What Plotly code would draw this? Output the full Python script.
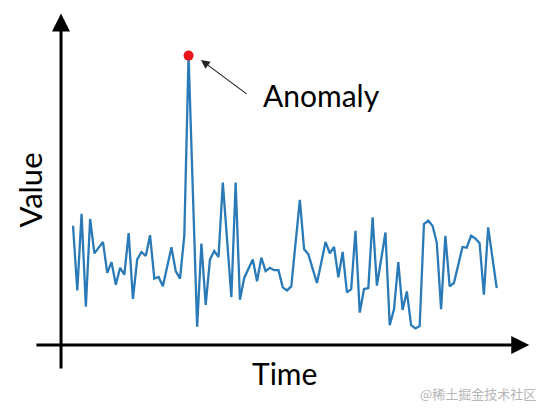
import plotly.graph_objects as go

# time series (arbitrary units)
time_idx = list(range(100))
values = [
    3.60, 1.68, 3.95, 1.20, 3.80, 2.78, 2.95, 3.12, 2.20, 2.52,
    1.85, 2.35, 2.15, 3.38, 1.43, 2.60, 2.82, 2.70, 3.32, 2.03,
    2.08, 1.80, 2.38, 2.96, 2.25, 2.03, 3.30, 8.65, 4.62, 0.60,
    3.07, 1.25, 2.60, 2.85, 2.67, 4.88, 3.18, 1.48, 4.88, 1.40,
    2.05, 2.32, 2.60, 1.95, 2.65, 2.25, 2.35, 2.28, 2.28, 1.77,
    1.68, 1.80, 3.10, 4.37, 2.90, 2.75, 2.32, 1.90, 2.50, 3.12,
    2.78, 2.97, 2.07, 2.82, 1.62, 1.72, 3.45, 1.02, 1.72, 1.75,
    3.85, 1.82, 2.60, 3.40, 0.65, 1.12, 2.52, 1.10, 1.65, 0.65,
    0.55, 0.62, 3.65, 3.75, 3.60, 3.10, 1.12, 3.30, 1.80, 1.90,
    2.43, 2.97, 2.95, 3.30, 3.22, 3.08, 1.55, 3.55, 2.65, 1.75,
]
anomaly_idx = [27]
anomaly_val = [values[27]]

fig = go.Figure()
fig.add_trace(go.Scatter(
    x=time_idx, y=values, mode="lines",
    line=dict(color="#2a7ab8", width=2.3),
    hoverinfo="skip",
))
fig.add_trace(go.Scatter(
    x=anomaly_idx, y=anomaly_val, mode="markers",
    marker=dict(color="#e8141c", size=10),
    hoverinfo="skip",
))

# hand-drawn style axes with arrow heads
axis_arrow = dict(showarrow=True, text="", arrowhead=2, arrowsize=1.2,
                  arrowwidth=3, arrowcolor="black", standoff=0,
                  xref="x", yref="y", axref="x", ayref="y")
annotations = [
    dict(axis_arrow, x=-2.8, y=9.9, ax=-2.8, ay=-0.68),
    dict(axis_arrow, x=106.6, y=0.06, ax=-8.9, ay=0.06),
    dict(showarrow=True, text="", arrowhead=2, arrowsize=1.6, arrowwidth=1.1,
         arrowcolor="#222222", standoff=0, xref="x", yref="y", axref="x", ayref="y",
         x=29.9, y=8.52, ax=40.9, ay=7.48),
    dict(text="Anomaly", x=44.0, y=7.48, xref="x", yref="y", showarrow=False,
         xanchor="left", yanchor="middle", font=dict(size=30, color="black")),
    dict(text="Time", x=49.3, y=-0.78, xref="x", yref="y", showarrow=False,
         xanchor="center", yanchor="middle", font=dict(size=30, color="black")),
    dict(text="Value", x=-10.0, y=4.65, xref="x", yref="y", showarrow=False,
         textangle=-90, xanchor="center", yanchor="middle",
         font=dict(size=31, color="black")),
    dict(text="@稀土掘金技术社区", x=1, y=0.0, xref="paper", yref="paper",
         showarrow=False, xanchor="right", yanchor="bottom", xshift=-12, yshift=6,
         font=dict(size=13, color="#b5b5b5", family="Noto Sans CJK SC")),
]

fig.update_layout(
    width=550, height=411,
    margin=dict(l=0, r=0, t=0, b=0),
    plot_bgcolor="#ffffff",
    paper_bgcolor="#ffffff",
    showlegend=False,
    font=dict(family="Lato, Open Sans, sans-serif", color="black"),
    annotations=annotations,
)
fig.update_xaxes(range=[-17.06, 111.45], visible=False, fixedrange=True)
fig.update_yaxes(range=[-1.90, 10.30], visible=False, fixedrange=True)

# the page body has a default 8px margin; drop it so the figure sits at 0,0
fig.write_html("out.html", config={"displayModeBar": False},
               post_script="document.body.style.margin='0';")
